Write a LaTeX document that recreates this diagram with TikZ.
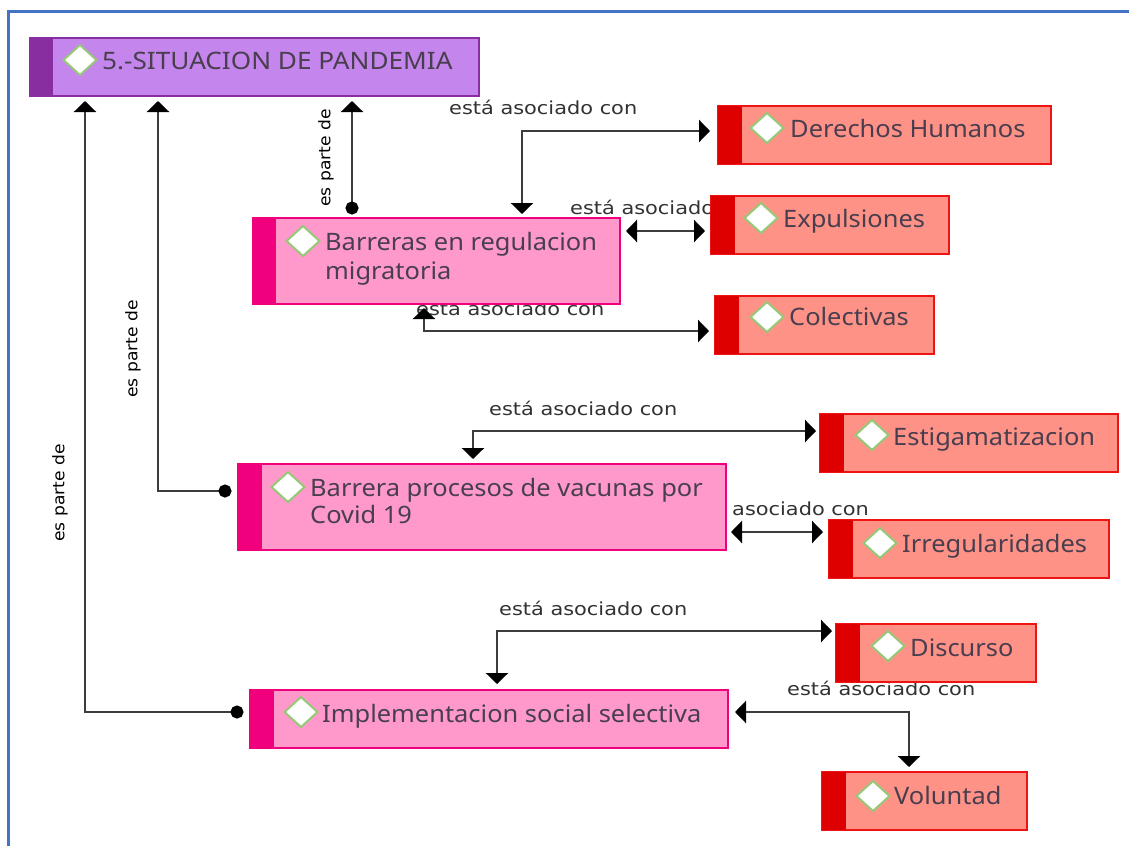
\documentclass[tikz,border=0pt]{standalone}
\usepackage{fontspec}
\setmainfont{Noto Sans}
\newfontfamily\titlefont[FakeStretch=1.06]{Noto Sans}
\newfontfamily\roottitlefont[FakeStretch=1.09]{Noto Sans}
\newfontfamily\lblfont[FakeStretch=1.16]{DejaVu Sans}
\newfontfamily\vlblfont[FakeStretch=1.07]{DejaVu Sans}
\usetikzlibrary{arrows.meta,shapes.geometric}
\definecolor{rootfill}{RGB}{196,133,236}
\definecolor{rootbar}{RGB}{136,46,160}
\definecolor{pinkfill}{RGB}{255,153,204}
\definecolor{pinkbar}{RGB}{240,0,125}
\definecolor{redfill}{RGB}{255,146,135}
\definecolor{redbar}{RGB}{222,0,0}
\definecolor{redline}{RGB}{238,20,20}
\definecolor{txt}{RGB}{72,62,78}
\definecolor{lbl}{RGB}{50,50,50}
\definecolor{linec}{RGB}{60,60,60}
\definecolor{framec}{RGB}{68,114,196}
\definecolor{dgreen}{RGB}{150,200,120}
\tikzset{
 boxbase/.style={rectangle,anchor=north west,inner sep=0pt,outer sep=0pt,line width=1.5pt},
 tag/.style={diamond,draw=dgreen,fill=white,line width=2pt,inner sep=0pt,outer sep=0pt,minimum width=33pt,minimum height=30pt,aspect=1.1},
 title/.style={anchor=base west,inner sep=0pt,text=txt,font=\titlefont\fontsize{24}{24}\selectfont},
 roottitle/.style={anchor=base west,inner sep=0pt,text=txt,font=\roottitlefont\fontsize{24}{24}\selectfont},
 rel/.style={anchor=base west,inner sep=0pt,text=lbl,font=\lblfont\fontsize{18}{18}\selectfont},
 relv/.style={anchor=center,inner sep=0pt,text=black,rotate=90,font=\vlblfont\fontsize{16}{16}\selectfont},
 link/.style={draw=linec,line width=2.5pt,{Triangle[width=22pt,length=11pt,color=black]}-{Triangle[width=22pt,length=11pt,color=black]}},
 partlink/.style={draw=linec,line width=2.5pt,{Circle[length=13pt,color=black]}-{Triangle[width=22pt,length=11pt,color=black]}},
}
% name x1 y1 x2 y2 barx fill bar line
\newcommand{\thebox}[9]{%
 \pgfmathsetmacro{\bw}{#4-#2}\pgfmathsetmacro{\bh}{#5-#3}%
 \node[boxbase,draw=#9,fill=#7,minimum width=\bw pt,minimum height=\bh pt] (#1) at (#2,#3) {};
 \fill[#8] (#2,#3) rectangle (#6,#5);
}
\begin{document}
\begin{tikzpicture}[x=1pt,y=-1pt]
\useasboundingbox (0,0) rectangle (1129,846);
\fill[white] (0,0) rectangle (1129,846);
\draw[framec,line width=3pt] (8,846) -- (8,11) -- (1129,11);
% relation labels lie behind the boxes
\node[rel] (l1) at (449,114) {está asociado con};
\node[rel] (l2) at (570,214) {está asociado};
\node[rel] (l3) at (416,315) {está asociado con};
\node[rel] (l4) at (489,415) {está asociado con};
\node[rel] (l5) at (732,515) {asociado con};
\node[rel] (l6) at (499,615) {está asociado con};
\node[rel] (l7) at (787,695) {está asociado con};
\thebox{root}{30}{38}{479}{96}{53}{rootfill}{rootbar}{rootbar}
\thebox{barr}{253}{218}{620}{304}{276}{pinkfill}{pinkbar}{pinkbar}
\thebox{vac}{238}{464}{726}{550}{262}{pinkfill}{pinkbar}{pinkbar}
\thebox{impl}{250}{690}{728}{748}{274}{pinkfill}{pinkbar}{pinkbar}
\thebox{der}{718}{106}{1051}{164}{742}{redfill}{redbar}{redline}
\thebox{exp}{711}{196}{949}{254}{735}{redfill}{redbar}{redline}
\thebox{col}{715}{296}{934}{354}{739}{redfill}{redbar}{redline}
\thebox{est}{820}{414}{1118}{472}{844}{redfill}{redbar}{redline}
\thebox{irr}{829}{520}{1109}{578}{853}{redfill}{redbar}{redline}
\thebox{dis}{836}{624}{1036}{682}{860}{redfill}{redbar}{redline}
\thebox{vol}{822}{772}{1027}{830}{846}{redfill}{redbar}{redline}
\node[tag] (d1) at (80,60) {};
\node[tag] (d2) at (303,241) {};
\node[tag] (d3) at (288,487) {};
\node[tag] (d4) at (301,712) {};
\node[tag] (d5) at (767,128) {};
\node[tag] (d6) at (761,218) {};
\node[tag] (d7) at (767,317) {};
\node[tag] (d8) at (872,435) {};
\node[tag] (d9) at (880,543) {};
\node[tag] (d10) at (888,646) {};
\node[tag] (d11) at (873,796) {};
\node[roottitle] (t1) at (102,69) {5.-SITUACION DE PANDEMIA};
\node[title] (t2a) at (325,250) {Barreras en regulacion};
\node[title] (t2b) at (325,279) {migratoria};
\node[title] (t3a) at (310,496) {Barrera procesos de vacunas por};
\node[title] (t3b) at (310,523) {Covid 19};
\node[title] (t4) at (322,722) {Implementacion social selectiva};
\node[title] (t5) at (790,137) {Derechos Humanos};
\node[title] (t6) at (783,227) {Expulsiones};
\node[title] (t7) at (789,325) {Colectivas};
\node[title] (t8) at (893,445) {Estigamatizacion};
\node[title] (t9) at (902,552) {Irregularidades};
\node[title] (t10) at (910,656) {Discurso};
\node[title] (t11) at (894,804) {Voluntad};
% es parte de
\node[relv] (p1) at (326,158) {es parte de};
\node[relv] (p2) at (133,349) {es parte de};
\node[relv] (p3) at (60,493) {es parte de};
\draw[partlink] ([shift={(-6.5,22)}]impl.north west) -| ([shift={(55,5)}]root.south west);
\draw[partlink] ([shift={(-6.5,27)}]vac.north west) -| ([shift={(128,5)}]root.south west);
\draw[partlink] ([shift={(99,-3.5)}]barr.north west) -- ([shift={(322,5)}]root.south west);
\draw[link] ([shift={(269,-4)}]barr.north west) |- ([shift={(-8,25)}]der.north west);
\draw[link] ([shift={(6,13)}]barr.north east) -- ([shift={(-6,35)}]exp.north west);
\draw[link] ([shift={(171,4)}]barr.south west) |- ([shift={(-6,35)}]col.north west);
\draw[link] ([shift={(235,-5)}]vac.north west) |- ([shift={(-4,17)}]est.north west);
\draw[link] ([shift={(5,68)}]vac.north east) -- ([shift={(-6,12)}]irr.north west);
\draw[link] ([shift={(247,-6)}]impl.north west) |- ([shift={(-4,7)}]dis.north west);
\draw[link] ([shift={(7,22)}]impl.north east) -| ([shift={(87,-5)}]vol.north west);
\end{tikzpicture}
\end{document}
